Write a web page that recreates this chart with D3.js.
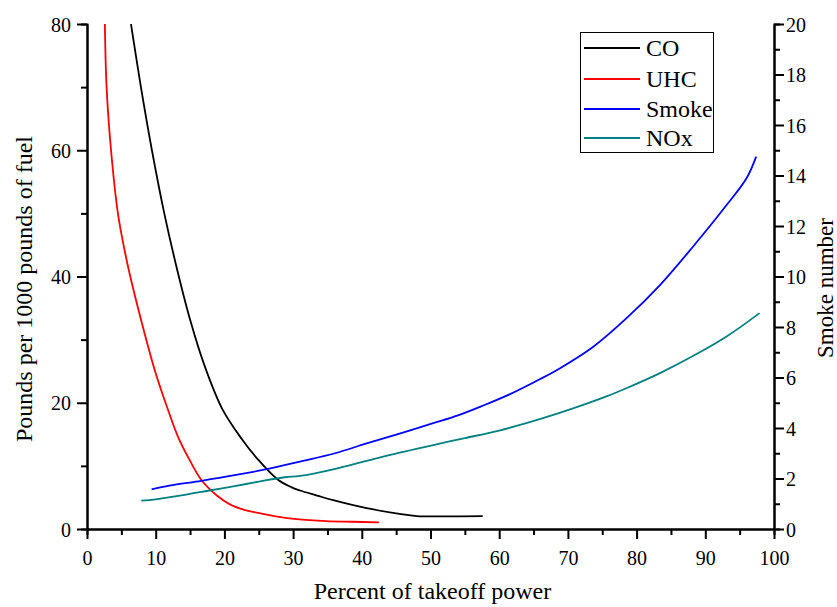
<!DOCTYPE html>
<html><head><meta charset="utf-8">
<script src="https://cdn.jsdelivr.net/npm/d3@7"></script>
<style>body{margin:0;background:#fff}svg{display:block}text{font-family:"Liberation Serif","Times New Roman",serif;fill:#000}</style>
</head><body><svg id="c" width="837" height="607"></svg>
<script>
// Data (percent of takeoff power, value)
const seriesNames = ["CO", "UHC", "Smoke", "NOx"];
const seriesColors = ["#000000", "#ff0000", "#0000ff", "#008080"];
const coData = [[6.4,80],[7.85,70],[9.45,60],[11.25,50],[13.1,41.2],[15.0,33.2],[17.2,25.6],[19.7,19.0],[22.5,14.3],[24.9,11.0],[27.8,7.8],[29.8,6.6],[31.0,6.1],[33.5,5.3],[35.7,4.6],[40.7,3.3],[45.5,2.4],[48.0,2.05],[52.0,2.0],[57.6,2.05]];
const uhcData = [[2.6,80],[2.85,70],[3.5,60],[4.5,50],[5.5,44],[6.3,40],[7.9,33],[9.85,25.2],[11.8,18.85],[13.25,14.6],[14.95,10.9],[16.65,7.76],[18.9,5.3],[20.8,3.9],[23.0,3.0],[25.1,2.5],[27.7,1.95],[30.5,1.55],[34.8,1.25],[38.5,1.15],[42.5,1.05]];
const smokeData = [[9.4,1.57],[12,1.72],[16.65,1.91],[21.5,2.13],[26.35,2.38],[31,2.67],[36.1,3.0],[40.7,3.39],[45.5,3.78],[50.4,4.19],[54,4.5],[57.6,4.88],[61.5,5.33],[65.9,5.93],[68.8,6.36],[73.7,7.22],[78.5,8.34],[83.4,9.66],[88.2,11.18],[93.1,12.83],[96.0,13.89],[97.4,14.75]];
const noxData = [[7.9,4.5],[10,4.7],[14.2,5.4],[17.8,6.1],[21.5,6.8],[25,7.5],[28.8,8.2],[31,8.4],[36,9.5],[40.7,10.8],[45.5,12.1],[50.4,13.3],[55,14.4],[60,15.6],[65.9,17.4],[70.75,19.1],[75.6,21.0],[78.5,22.3],[83.4,24.7],[88.2,27.4],[93.1,30.5],[97.9,34.2]];
const xTicks = [0,10,20,30,40,50,60,70,80,90,100];
const yLeftTicks = [0,20,40,60,80];
const yRightTicks = [0,2,4,6,8,10,12,14,16,18,20];
const xTitle = "Percent of takeoff power";
const yLeftTitle = "Pounds per 1000 pounds of fuel";
const yRightTitle = "Smoke number";

const svg = d3.select("#c");
const L = 87, R = 774, T = 24, B = 529;
const x = d3.scaleLinear().domain([0,100]).range([L,R]);
const yL = d3.scaleLinear().domain([0,80]).range([B,T]);
const yR = d3.scaleLinear().domain([0,20]).range([B,T]);

function styleAxis(g){
  g.attr("font-family",null);
  g.selectAll(".domain").attr("stroke","#000").attr("stroke-width",2);
  g.selectAll(".tick line").attr("stroke","#000").attr("stroke-width",2);
  g.selectAll("text").style("font-size","20px").style("font-family",'"Liberation Serif",serif').attr("fill","#000");
}
const gxm = svg.append("g").attr("transform",`translate(0,${B})`)
  .call(d3.axisBottom(x).tickValues(d3.range(5,100,10)).tickSize(6).tickFormat(""));
styleAxis(gxm);
const gx = svg.append("g").attr("transform",`translate(0,${B})`)
  .call(d3.axisBottom(x).tickValues(xTicks).tickSize(10).tickSizeOuter(0).tickPadding(8));
styleAxis(gx);
const gylm = svg.append("g").attr("transform",`translate(${L},0)`)
  .call(d3.axisLeft(yL).tickValues(d3.range(10,80,20)).tickSize(6).tickFormat(""));
styleAxis(gylm);
const gyl = svg.append("g").attr("transform",`translate(${L},0)`)
  .call(d3.axisLeft(yL).tickValues(yLeftTicks).tickSize(10).tickSizeOuter(0).tickPadding(6));
styleAxis(gyl);
const gyrm = svg.append("g").attr("transform",`translate(${R},0)`)
  .call(d3.axisRight(yR).tickValues(d3.range(1,20,2)).tickSize(6).tickFormat(""));
styleAxis(gyrm);
const gyr = svg.append("g").attr("transform",`translate(${R},0)`)
  .call(d3.axisRight(yR).tickValues(yRightTicks).tickSize(10).tickSizeOuter(0).tickPadding(2));
styleAxis(gyr);
gyl.selectAll(".tick text").attr("dy","0.35em");
gyr.selectAll(".tick text").attr("dy","0.35em");
gx.selectAll(".tick text").attr("dy","0.9em");

svg.append("text").attr("x",(L+R)/2+2).attr("y",599).attr("text-anchor","middle").style("font-size","24px").text(xTitle);
svg.append("text").attr("transform","translate(32,289) rotate(-90)").attr("text-anchor","middle").style("font-size","24px").text(yLeftTitle);
svg.append("text").attr("transform","translate(833,288) rotate(-90)").attr("text-anchor","middle").style("font-size","23px").text(yRightTitle);

svg.append("clipPath").attr("id","clip").append("rect").attr("x",L).attr("y",T).attr("width",R-L).attr("height",B-T);
const curve = d3.curveCatmullRom.alpha(0.5);
const lineL = d3.line().x(d=>x(d[0])).y(d=>yL(d[1])).curve(curve);
const lineR = d3.line().x(d=>x(d[0])).y(d=>yR(d[1])).curve(curve);
const plots = [[coData,lineL],[uhcData,lineL],[smokeData,lineR],[noxData,lineL]];
plots.forEach((p,i)=>{
  svg.append("path").attr("d",p[1](p[0])).attr("fill","none").attr("stroke",seriesColors[i]).attr("stroke-width",1.8).attr("clip-path","url(#clip)");
});

const lg = svg.append("g");
lg.append("rect").attr("x",580.5).attr("y",32.5).attr("width",133).attr("height",120).attr("fill","#fff").attr("stroke","#000").attr("stroke-width",1);
const rows = [48,79,109,138];
seriesNames.forEach((n,i)=>{
  lg.append("line").attr("x1",584).attr("x2",640).attr("y1",rows[i]).attr("y2",rows[i]).attr("stroke",seriesColors[i]).attr("stroke-width",1.8);
  lg.append("text").attr("x",646).attr("y",rows[i]+8).style("font-size","24px").text(n);
});
</script></body></html>
